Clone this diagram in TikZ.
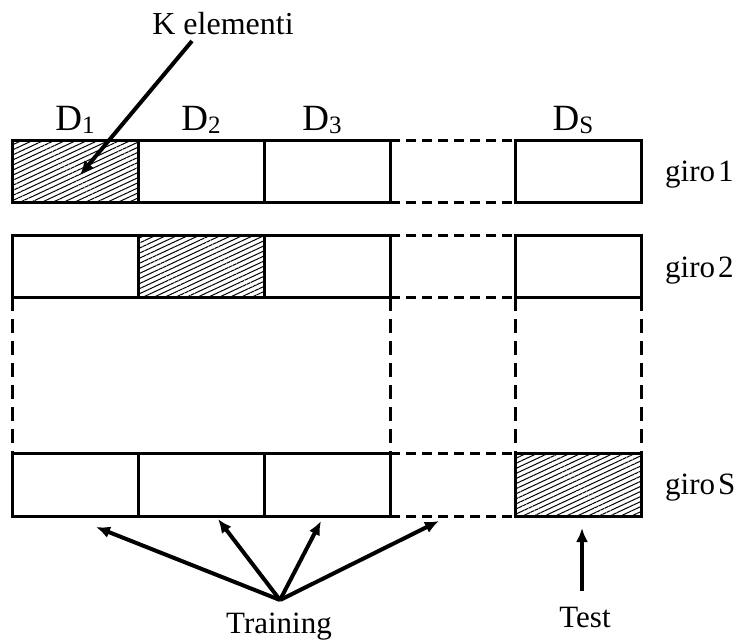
\documentclass[tikz,border=0pt]{standalone}
\usepackage{fontspec}
\setmainfont{Liberation Serif}
\usetikzlibrary{patterns.meta,arrows.meta}
\tikzset{
  cell/.style={draw, line width=3pt, minimum width=126pt, minimum height=62pt, inner sep=0pt, outer sep=0pt},
  hatched/.style={cell, pattern={Lines[angle=25,distance=4.6pt,line width=1pt]}},
  hdash/.style={line width=3pt, dash pattern=on 10pt off 6pt},
  vdash/.style={line width=3pt, dash pattern=on 14pt off 8pt},
  lbl/.style={font=\fontsize{31}{35}\selectfont, inner sep=0pt},
  dlbl/.style={font=\fontsize{37}{40}\selectfont, inner sep=0pt, anchor=base},
  arr/.style={line width=4pt, -{Latex[length=14pt,width=12pt]}}
}
\newcommand{\dsub}[1]{\raisebox{-3pt}{\fontsize{25}{25}\selectfont #1}}
\begin{document}
\begin{tikzpicture}[x=1pt,y=-1pt]
\useasboundingbox (0,0) rectangle (750,643);
% row 1
\node[hatched] (r1c1) at (75,171) {};
\node[cell] (r1c2) at (201,171) {};
\node[cell] (r1c3) at (327,171) {};
\node[cell] (r1c5) at (578,171) {};
% row 2
\node[cell] (r2c1) at (75,266) {};
\node[hatched] (r2c2) at (201,266) {};
\node[cell] (r2c3) at (327,266) {};
\node[cell] (r2c5) at (578,266) {};
% row S
\node[cell, minimum height=63pt] (rSc1) at (75,484.5) {};
\node[cell, minimum height=63pt] (rSc2) at (201,484.5) {};
\node[cell, minimum height=63pt] (rSc3) at (327,484.5) {};
\node[hatched, minimum height=63pt] (rSc5) at (578,484.5) {};
% dashed horizontals
\foreach \r in {1,2,S}{
  \draw[hdash] (r\r c3.north east) -- (r\r c5.north west);
  \draw[hdash] (r\r c3.south east) -- (r\r c5.south west);
}
% dashed verticals
\draw[vdash] (r2c1.south west) -- (rSc1.north west);
\draw[vdash] (r2c3.south east) -- (rSc3.north east);
\draw[vdash] (r2c5.south west) -- (rSc5.north west);
\draw[vdash] (r2c5.south east) -- (rSc5.north east);
% column labels
\node[dlbl] (d1) at (75,130) {D\dsub{1}};
\node[dlbl] (d2) at (201,130) {D\dsub{2}};
\node[dlbl] (d3) at (322,130) {D\dsub{3}};
\node[dlbl] (ds) at (573,130) {D\dsub{S}};
% row labels
\node[lbl, anchor=base west] (g1) at (665,181) {giro\hspace{0.1em}1};
\node[lbl, anchor=base west] (g2) at (665,277) {giro\hspace{0.1em}2};
\node[lbl, anchor=base west] (gS) at (665,494) {giro\hspace{0.1em}S};
% K elementi
\node[lbl, font=\fontsize{32}{36}\selectfont, anchor=base] (kel) at (223,34) {K elementi};
\coordinate (ktail) at (192,41);
\coordinate (khead) at (80,175);
\draw[arr] (ktail) -- (khead);
% Training
\node[lbl, anchor=base] (train) at (279,633) {Training};
\coordinate (apex) at (280,600);
\coordinate (t1) at (96,527);
\coordinate (t2) at (218,519);
\coordinate (t3) at (321,521);
\coordinate (t4) at (439,521);
\foreach \t in {t1,t2,t3,t4} \draw[arr] (apex) -- (\t);
% Test
\node[lbl, anchor=base] (test) at (585,627) {Test};
\coordinate (testtail) at (582,591);
\coordinate (testhead) at (582,528);
\draw[arr] (testtail) -- (testhead);
\end{tikzpicture}
\end{document}
